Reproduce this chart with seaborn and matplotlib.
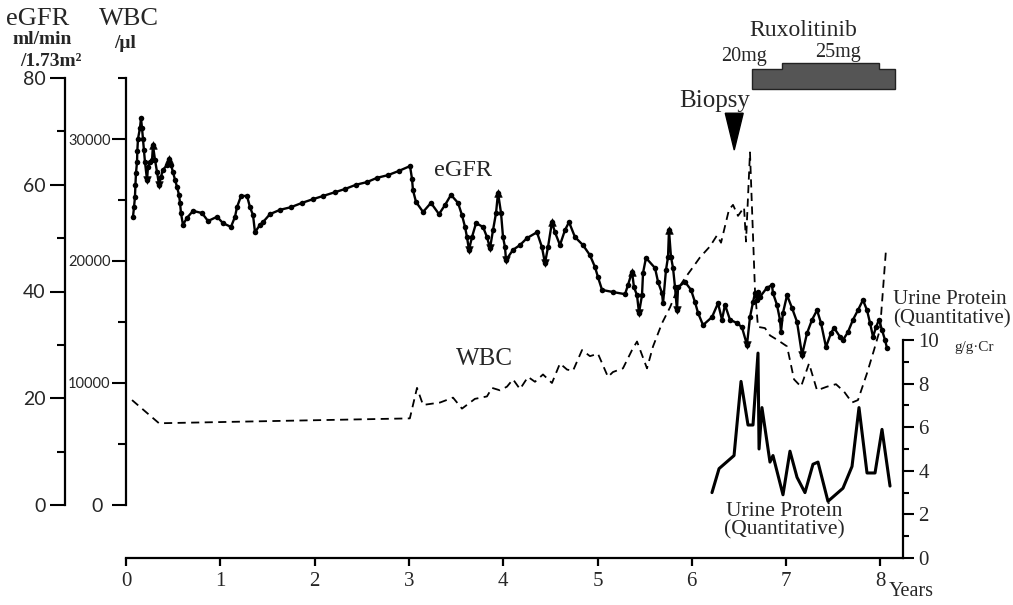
import numpy as np
import pandas as pd
import seaborn as sns
import matplotlib
matplotlib.use("Agg")
import matplotlib.pyplot as plt
from matplotlib.patches import Polygon

# ---------------- data ----------------
egfr_years = [0.074,0.085,0.095,0.100,0.106,0.117,0.120,0.127,0.148,0.159,
              0.170,0.180,0.191,0.201,0.223,0.233,0.255,0.276,0.286,0.308,
              0.329,0.350,0.371,0.392,0.435,0.456,0.477,0.498,0.520,0.541,
              0.562,0.573,0.583,0.604,0.647,0.711,0.806,0.870,0.965,1.029,
              1.113,1.156,1.177,1.220,1.283,1.315,1.347,1.368,1.421,1.453,
              1.527,1.633,1.750,1.866,1.983,2.089,2.216,2.322,2.439,2.556,
              2.662,2.778,2.895,3.012,
              3.033,3.043,3.075,3.150,3.234,3.319,3.383,3.446,3.521,3.563,
              3.595,3.616,3.637,3.669,3.712,3.786,3.828,3.860,3.892,3.924,
              3.945,3.977,3.998,4.019,4.030,4.104,4.178,4.252,4.358,4.411,
              4.443,4.475,4.517,4.549,4.602,4.655,4.698,4.761,4.846,4.920,
              4.973,5.005,5.048,5.164,5.292,5.323,5.366,5.387,5.419,5.440,
              5.472,5.483,5.514,5.610,5.642,5.684,5.695,5.726,5.748,5.758,
              5.779,5.801,5.822,5.843,5.854,5.928,5.992,6.034,6.066,6.119,
              6.214,6.278,6.320,6.352,6.405,6.479,6.532,6.585,6.617,6.649,
              6.670,6.691,6.702,6.723,6.797,6.850,6.861,6.903,6.935,6.946,
              6.967,7.010,7.063,7.116,7.169,7.222,7.275,7.328,7.370,7.423,
              7.476,7.508,7.572,7.603,7.656,7.709,7.762,7.815,7.858,7.890,
              7.922,7.953,7.985,8.017,8.049,8.070]
egfr = [54.0,55.8,57.7,60.0,62.2,64.3,66.3,68.6,70.6,72.5,
        70.6,68.6,66.5,64.3,60.9,63.3,64.3,64.6,67.4,64.6,
        62.4,60.0,61.5,62.8,63.7,64.8,63.7,62.4,60.9,59.6,
        58.1,56.6,54.7,52.5,53.8,55.1,54.7,53.2,54.0,52.8,
        52.1,54.0,55.8,57.9,57.9,55.8,54.3,51.1,52.5,53.0,
        54.5,55.3,55.8,56.6,57.3,57.9,58.6,59.2,60.0,60.5,
        61.3,61.8,62.6,63.5,
        61.1,59.0,56.8,54.9,56.6,54.5,56.2,58.1,56.6,54.3,
        52.1,50.2,47.8,50.2,52.8,52.1,50.2,48.1,51.5,54.7,
        58.5,54.7,50.2,48.3,45.9,47.8,48.7,50.0,51.1,48.3,
        45.3,48.3,53.0,51.1,48.7,51.5,53.0,50.2,48.7,46.8,
        44.6,42.7,40.3,39.9,39.5,41.2,43.7,40.8,39.3,36.0,
        39.3,43.5,46.3,44.4,41.8,39.7,37.8,44.0,46.5,51.5,
        46.5,44.4,40.8,36.5,40.8,41.8,40.3,38.0,36.0,33.7,
        35.2,37.8,34.7,37.5,34.7,34.1,33.3,30.0,35.2,38.0,
        39.7,38.4,39.9,39.0,40.7,41.2,39.7,37.5,34.7,32.4,
        36.0,39.3,36.9,34.3,28.1,32.2,34.7,36.5,34.1,29.6,
        32.2,33.2,31.5,30.9,32.4,34.7,36.5,38.4,36.5,34.1,
        31.5,33.3,34.7,32.8,30.9,29.4]
egfr_spike_up = [18, 25, 84, 96, 110, 123]
egfr_spike_down = [14, 21, 76, 81, 88, 94, 113, 127, 141, 158]

wbc_years = [0.064,0.350,3.010,3.086,3.150,3.330,3.468,3.563,3.700,3.828,
             3.881,3.966,4.040,4.104,4.178,4.263,4.337,4.422,4.517,4.602,
             4.677,4.740,4.836,4.920,5.005,5.111,5.164,5.270,5.366,5.419,
             5.525,5.589,5.684,5.769,5.843,5.928,6.013,6.087,6.193,6.267,
             6.310,6.394,6.437,6.490,6.554,6.575,6.617,6.670,6.702,6.776,
             6.829,6.914,7.010,7.084,7.158,7.243,7.328,7.434,7.529,7.614,
             7.699,7.762,7.858,7.932,7.996,8.059]
wbc = [8600,6700,7100,9600,8200,8400,8800,7900,8700,8900,
       9600,9400,9700,10300,9500,10500,10100,10700,10000,11600,
       11100,11000,12700,12200,12400,10500,10900,11200,12700,13400,
       11200,13000,14900,16200,17600,18600,19500,20300,21200,22100,
       21500,24200,24600,23700,24400,21600,28900,17600,14600,14500,
       13900,13500,13000,10300,9700,11600,9400,9700,9900,9300,
       8400,8600,10800,12700,14400,20900]

uprot_years = [6.214,6.289,6.448,6.522,6.596,6.649,6.702,6.713,6.744,6.829,
               6.861,6.967,7.041,7.116,7.200,7.285,7.338,7.444,7.603,7.699,
               7.773,7.858,7.943,8.017,8.102]
uprot = [3.0,4.1,4.7,8.1,6.1,6.1,9.4,5.0,6.9,4.4,
         4.7,2.9,4.9,3.7,3.0,4.3,4.4,2.6,3.2,4.2,
         6.9,3.9,3.9,5.9,3.3]

x_ticks = [0, 1, 2, 3, 4, 5, 6, 7, 8]
egfr_ticks = [0, 20, 40, 60, 80]
wbc_ticks = [0, 10000, 20000, 30000]
wbc_tick_labels = ["", "10000", "20000", "30000"]
uprot_ticks = [0, 2, 4, 6, 8, 10]

biopsy_year = 6.45
rux_start, rux_up, rux_down, rux_end = 6.64, 6.96, 7.99, 8.16

# ---------------- style ----------------
sns.set_style("white")
plt.rcParams["font.family"] = ["Liberation Serif", "DejaVu Serif"]
SERIF = ["Liberation Serif", "DejaVu Serif"]
SANS = ["Lato", "DejaVu Sans"]

W, H = 1013, 605
fig = plt.figure(figsize=(W / 100, H / 100), dpi=100)


def fx(px):
    return px / W


def fy(py):
    return 1 - py / H


left, right = 126, 903
xmax = (right - left) / 94.3

ax_w = fig.add_axes([fx(left), fy(505), fx(right - left), (505 - 78) / H])
ax_e = fig.add_axes([fx(left), fy(505), fx(right - left), (505 - 78) / H])
ax_u = fig.add_axes([fx(left), fy(558), fx(right - left), (558 - 340) / H])

for a in (ax_w, ax_e, ax_u):
    a.set_facecolor("none")
    a.set_xlim(0, xmax)
    for s in a.spines.values():
        s.set_visible(False)
        s.set_linewidth(1.6)
        s.set_color("black")
    a.grid(False)

# WBC (dashed)
wdf = pd.DataFrame({"year": wbc_years, "wbc": wbc})
sns.lineplot(data=wdf, x="year", y="wbc", ax=ax_w, color="black",
             linewidth=1.3, linestyle=(0, (4.5, 3)), sort=False,
             estimator=None, legend=False)
ax_w.set_ylim(0, 35000)
ax_w.spines["left"].set_visible(True)
ax_w.set_yticks(wbc_ticks)
ax_w.set_yticks([5000, 15000, 25000, 35000], minor=True)
ax_w.set_yticklabels(wbc_tick_labels)
ax_w.tick_params(axis="y", which="major", length=10, width=1.5, direction="out",
                 labelsize=10.5, pad=1, labelfontfamily="Lato",
                 left=True, labelleft=True, color="black")
ax_w.tick_params(axis="y", which="minor", length=6, width=1.5, direction="out",
                 left=True, color="black")
ax_w.set_xticks([])
ax_w.set_xlabel("")
ax_w.set_ylabel("")

# eGFR (solid with dots)
edf = pd.DataFrame({"year": egfr_years, "egfr": egfr})
sns.lineplot(data=edf, x="year", y="egfr", ax=ax_e, color="black",
             linewidth=1.7, marker="o", markersize=4.0, markeredgewidth=0,
             sort=False, estimator=None, legend=False)
up = edf.iloc[egfr_spike_up]
dn = edf.iloc[egfr_spike_down]
sns.scatterplot(data=up, x="year", y="egfr", ax=ax_e, marker="^", s=30,
                color="black", edgecolor="black", legend=False)
sns.scatterplot(data=dn, x="year", y="egfr", ax=ax_e, marker="v", s=30,
                color="black", edgecolor="black", legend=False)
ax_e.set_ylim(0, 80)
ax_e.spines["left"].set_visible(True)
ax_e.spines["left"].set_position(("outward", 61 * 0.72))
ax_e.set_yticks(egfr_ticks)
ax_e.set_yticks([10, 30, 50, 70], minor=True)
ax_e.tick_params(axis="y", which="major", length=11, width=1.5, direction="out",
                 labelsize=14, pad=3, labelfontfamily="Lato",
                 left=True, labelleft=True, color="black")
ax_e.tick_params(axis="y", which="minor", length=6, width=1.5, direction="out",
                 left=True, color="black")
ax_e.set_xticks([])
ax_e.set_xlabel("")
ax_e.set_ylabel("")

# Urine protein (thick solid)
udf = pd.DataFrame({"year": uprot_years, "up": uprot})
sns.lineplot(data=udf, x="year", y="up", ax=ax_u, color="black",
             linewidth=2.2, sort=False, estimator=None, legend=False)
ax_u.set_ylim(0, 10)
ax_u.spines["right"].set_visible(True)
ax_u.spines["bottom"].set_visible(True)
ax_u.yaxis.tick_right()
ax_u.set_yticks(uprot_ticks)
ax_u.set_yticks([1, 3, 5, 7, 9], minor=True)
ax_u.tick_params(axis="y", which="major", length=8, width=1.5, direction="out",
                 labelsize=15, pad=3, right=True, left=False,
                 labelright=True, labelleft=False, color="black")
ax_u.tick_params(axis="y", which="minor", length=4, width=1.5, direction="out",
                 right=True, left=False, color="black")
ax_u.set_xticks(x_ticks)
ax_u.tick_params(axis="x", which="major", length=6, width=1.6, direction="out",
                 labelsize=15, pad=4, bottom=True, labelbottom=True,
                 color="black")
ax_u.set_xlabel("")
ax_u.set_ylabel("")

# Ruxolitinib bar and biopsy marker (in eGFR data coordinates)
bar = Polygon([(rux_start, 77.9), (rux_start, 81.7), (rux_up, 81.7),
               (rux_up, 82.8), (rux_down, 82.8), (rux_down, 81.7),
               (rux_end, 81.7), (rux_end, 77.9)], closed=True,
              facecolor="#555555", edgecolor="#222222", linewidth=1.0,
              clip_on=False, zorder=5)
ax_e.add_patch(bar)
tri = Polygon([(biopsy_year - 0.095, 73.4), (biopsy_year + 0.095, 73.4),
               (biopsy_year, 66.5)], closed=True, facecolor="black",
              edgecolor="black", clip_on=False, zorder=5)
ax_e.add_patch(tri)

# ---------------- texts ----------------
def t(px, py, s, size, ha="center", va="center", family=SERIF, **kw):
    fig.text(fx(px), fy(py), s, fontsize=size, ha=ha, va=va, family=family, **kw)

t(38, 19, "eGFR", 19)
t(42, 40, "ml/min", 14, weight="bold")
t(51, 61, "/1.73m²", 14, weight="bold")
t(129, 19, "WBC", 19)
t(125, 43, "/μl", 14, weight="bold")
t(97, 506, "0", 14, family=SANS)

t(803, 30, "Ruxolitinib", 17)
t(744, 57, "20mg", 14.5)
t(838, 53, "25mg", 14.5)
t(715, 101, "Biopsy", 18)

t(463, 171, "eGFR", 17.5)
t(484, 359, "WBC", 18)

t(893, 300, "Urine Protein", 15, ha="left")
t(893, 319, "(Quantitative)", 15, ha="left")
t(974, 348, "g/g·Cr", 11)
t(784, 512, "Urine Protein", 15.5)
t(784, 530, "(Quantitative)", 15.5)
t(911, 592, "Years", 14.5)

fig.savefig("out.png", dpi=100)
